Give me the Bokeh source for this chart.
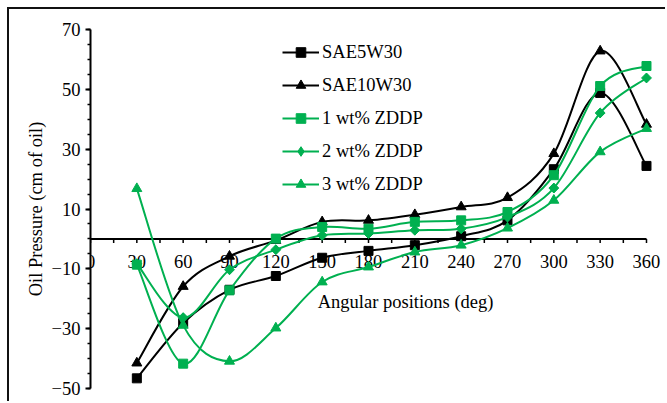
import numpy as np
from bokeh.plotting import figure
from bokeh.models import (FixedTicker, Legend, LegendItem, Range1d, LabelSet,
                          ColumnDataSource, InlineStyleSheet)
from bokeh.embed import file_html
from bokeh.resources import INLINE
from bokeh.core.properties import value

# ---------------- data ----------------
angles = [30, 60, 90, 120, 150, 180, 210, 240, 270, 300, 330, 360]
sae5w30 = [-46.6, -28.1, -17.0, -12.4, -6.3, -4.0, -2.1, 0.9, 6.2, 23.3, 48.8, 24.4]
sae10w30 = [-41.5, -15.9, -5.8, -0.5, 5.7, 6.2, 8.1, 10.7, 13.8, 28.5, 62.8, 38.3]
zddp1 = [-8.6, -41.7, -17.2, 0.1, 4.0, 3.4, 5.7, 6.2, 9.0, 21.3, 51.1, 57.8]
zddp2 = [-8.3, -26.3, -10.3, -3.6, 1.2, 1.8, 2.9, 3.4, 7.3, 17.0, 42.1, 53.8]
zddp3 = [16.8, -28.9, -40.9, -29.8, -14.4, -9.4, -4.4, -2.1, 3.6, 12.9, 29.1, 36.9]
series_names = ["SAE5W30", "SAE10W30", "1 wt% ZDDP", "2 wt% ZDDP", "3 wt% ZDDP"]

x_ticks = [0, 30, 60, 90, 120, 150, 180, 210, 240, 270, 300, 330, 360]
x_minor = [15, 45, 75, 105, 135, 165, 195, 225, 255, 285, 315, 345]
y_ticks = [-50, -30, -10, 10, 30, 50, 70]
y_minor = list(range(-50, 71, 5))
x_title = "Angular positions (deg)"
y_title = "Oil Pressure (cm of oil)"

FONT = "Liberation Serif"
FSIZE = "18.5px"
BLACK = "#000000"
GREEN = "#00B050"

p = figure(width=658, height=394, output_backend="svg", toolbar_location=None,
           x_range=Range1d(0, 373.6), y_range=Range1d(-50, 70),
           x_axis_location=None,
           min_border_left=81, min_border_right=0,
           min_border_top=20, min_border_bottom=15)
p.styles = {"margin-left": "7px", "margin-top": "7px",
            "border-left": "2px solid #111111",
            "border-top": "2px solid #111111"}
p.stylesheets = [InlineStyleSheet(css=":host { border-top: 2px solid #111111 !important; "
                                      "border-left: 2px solid #111111 !important; }")]
p.outline_line_color = None
p.xgrid.visible = False
p.ygrid.visible = False
p.background_fill_color = "white"
p.border_fill_color = "white"

# y axis
ya = p.yaxis[0]
ya.ticker = FixedTicker(ticks=y_ticks, minor_ticks=y_minor)
ya.axis_line_width = 2
ya.axis_line_color = BLACK
ya.major_tick_out = 5
ya.major_tick_in = 0
ya.minor_tick_out = 3
ya.minor_tick_in = 0
ya.major_tick_line_width = 2
ya.minor_tick_line_width = 1.5
ya.major_label_text_font = FONT
ya.major_label_text_font_size = FSIZE
ya.major_label_text_color = BLACK
ya.major_label_standoff = 5
ya.axis_label = y_title
ya.axis_label_text_font = FONT
ya.axis_label_text_font_size = FSIZE
ya.axis_label_text_font_style = "normal"
ya.axis_label_text_color = BLACK
ya.axis_label_standoff = 3

# x axis at y = 0 (drawn with glyphs / annotations)
tick_len = 1.4
all_x = x_ticks + x_minor
xlab_src = ColumnDataSource(dict(x=x_ticks, y=[0] * len(x_ticks),
                                 t=[str(t) for t in x_ticks]))
p.add_layout(LabelSet(x="x", y="y", text="t", source=xlab_src,
                      text_align="center", text_baseline="middle", y_offset=-23,
                      text_font=value(FONT), text_font_size=FSIZE, text_color=BLACK,
                      level="underlay"))
p.text(x=[204], y=[0], text=[x_title], text_align="center", text_baseline="middle",
       y_offset=63, text_font=value(FONT), text_font_size=FSIZE, text_color=BLACK)
p.segment(x0=[x_ticks[0]], y0=[0], x1=[x_ticks[-1]], y1=[0], line_color=BLACK, line_width=2)
p.segment(x0=all_x, y0=[0] * len(all_x), x1=all_x, y1=[-tick_len] * len(all_x),
          line_color=BLACK, line_width=1.5)


def bezier_parts(xs, ys):
    xs = np.asarray(xs, float)
    ys = np.asarray(ys, float)
    n = len(xs)
    qx = np.concatenate([[xs[0]], xs, [xs[-1]]])
    qy = np.concatenate([[ys[0]], ys, [ys[-1]]])
    cx0 = qx[1:n] + (qx[2:n + 1] - qx[0:n - 1]) / 6
    cy0 = qy[1:n] + (qy[2:n + 1] - qy[0:n - 1]) / 6
    cx1 = qx[2:n + 1] - (qx[3:n + 2] - qx[1:n]) / 6
    cy1 = qy[2:n + 1] - (qy[3:n + 2] - qy[1:n]) / 6
    return dict(x0=xs[:-1], y0=ys[:-1], x1=xs[1:], y1=ys[1:],
                cx0=cx0, cy0=cy0, cx1=cx1, cy1=cy1)


# (values, colour, marker, size, angle, legend marker)
series = [
    (sae5w30, BLACK, "square", 9, 0.0, "square"),
    (sae10w30, BLACK, "triangle", 10, 0.0, "triangle"),
    (zddp1, GREEN, "square", 9, 0.0, "square"),
    (zddp2, GREEN, "square", 7, np.pi / 4, "diamond"),
    (zddp3, GREEN, "triangle", 10, 0.0, "triangle"),
]

items = []
for name, (vals, col, mk, sz, ang, lmk) in zip(series_names, series):
    b = p.bezier(**bezier_parts(angles, vals), line_color=col, line_width=2)
    if lmk != mk:
        # diamond used for the legend key; hidden under the rotated squares
        s_leg = p.scatter(x=angles, y=vals, marker=lmk, size=9,
                          fill_color=col, line_color=col)
        s = p.scatter(x=angles, y=vals, marker=mk, size=sz, angle=ang,
                      fill_color=col, line_color=col)
        items.append(LegendItem(label=name, renderers=[b, s_leg]))
    else:
        s = p.scatter(x=angles, y=vals, marker=mk, size=sz, angle=ang,
                      fill_color=col, line_color=col)
        items.append(LegendItem(label=name, renderers=[b, s]))

legend = Legend(items=items, location=(192, 192), orientation="vertical",
                glyph_width=37, glyph_height=24, spacing=9, label_standoff=3,
                padding=0, margin=0, border_line_color=None,
                background_fill_alpha=0,
                label_text_font=FONT, label_text_font_size=FSIZE,
                label_text_color=BLACK)
p.add_layout(legend)

open("out.html", "w").write(file_html(p, INLINE))
